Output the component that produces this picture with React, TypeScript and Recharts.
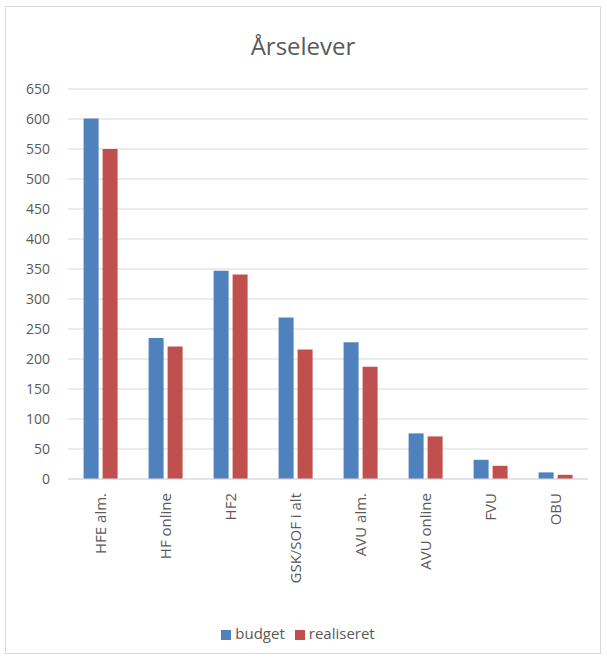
import { BarChart, Bar, XAxis, YAxis, CartesianGrid, Legend } from 'recharts';

const categories = ['HFE alm.', 'HF online', 'HF2', 'GSK/SOF i alt', 'AVU alm.', 'AVU online', 'FVU', 'OBU'];
const budget = [601, 235, 347, 269, 228, 76, 32, 11];
const realiseret = [550, 221, 341, 216, 187, 71, 22, 7];
const yTicks = [0, 50, 100, 150, 200, 250, 300, 350, 400, 450, 500, 550, 600, 650];

const data = categories.map((name, i) => ({
  name,
  budget: budget[i],
  realiseret: realiseret[i],
}));

const font = '"Open Sans", "Noto Sans", sans-serif';
const textColor = '#595959';

function CategoryTick(props: any) {
  const { x, y, payload } = props;
  return (
    <text
      x={0}
      y={0}
      transform={`translate(${x},${y + 6}) rotate(-90)`}
      textAnchor="end"
      dy="0.35em"
      fill={textColor}
      fontSize={15}
      fontFamily={font}
    >
      {payload.value}
    </text>
  );
}

export default function App() {
  return (
    <div
      style={{
        position: 'absolute',
        left: 5,
        top: 6,
        width: 594,
        height: 646,
        border: '1px solid #d9d9d9',
        background: '#fff',
        fontFamily: font,
      }}
    >
      <div
        style={{
          position: 'absolute',
          top: 22,
          width: '100%',
          textAlign: 'center',
          fontSize: 24,
          color: textColor,
        }}
      >
        Årselever
      </div>
      <BarChart
        width={594}
        height={646}
        data={data}
        margin={{ top: 82, right: 12, bottom: 10, left: 12 }}
        barCategoryGap="24%"
        barGap={4}
      >
        <CartesianGrid vertical={false} stroke="#d9d9d9" />
        <XAxis
          dataKey="name"
          tick={<CategoryTick />}
          tickLine={false}
          axisLine={{ stroke: '#d9d9d9' }}
          interval={0}
          height={144}
        />
        <YAxis
          domain={[0, 650]}
          ticks={yTicks}
          tickLine={false}
          axisLine={false}
          width={50}
          tickMargin={12}
          tick={{ fill: textColor, fontSize: 14, fontFamily: font }}
        />
        <Legend
          verticalAlign="bottom"
          align="center"
          iconType="square"
          iconSize={10}
          wrapperStyle={{ fontSize: 15, fontFamily: font }}
          formatter={(v: string) => <span style={{ color: textColor }}>{v}</span>}
        />
        <Bar dataKey="budget" name="budget" fill="#4f81bd" isAnimationActive={false} />
        <Bar dataKey="realiseret" name="realiseret" fill="#c0504d" isAnimationActive={false} />
      </BarChart>
    </div>
  );
}
